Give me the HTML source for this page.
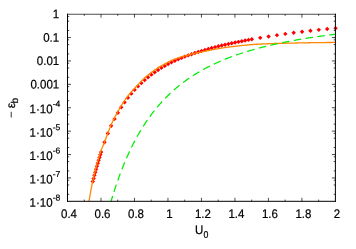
<!DOCTYPE html>
<html><head><meta charset="utf-8"><style>html,body{margin:0;padding:0;background:#fff}body{width:356px;height:249px;overflow:hidden}</style></head><body><svg width="356" height="249" viewBox="0 0 356 249" style="display:block;will-change:transform"><rect width="356" height="249" fill="#fff"/><path d="M90.57 181.55L92.77 179.35L94.97 181.55L92.77 183.75Z" fill="#ff0000"/><path d="M91.40 178.44L93.60 176.24L95.80 178.44L93.60 180.64Z" fill="#ff0000"/><path d="M92.24 175.33L94.44 173.13L96.64 175.33L94.44 177.53Z" fill="#ff0000"/><path d="M93.08 172.23L95.28 170.03L97.48 172.23L95.28 174.43Z" fill="#ff0000"/><path d="M93.91 169.17L96.11 166.97L98.31 169.17L96.11 171.37Z" fill="#ff0000"/><path d="M94.75 166.16L96.95 163.96L99.15 166.16L96.95 168.36Z" fill="#ff0000"/><path d="M95.59 163.21L97.79 161.01L99.99 163.21L97.79 165.41Z" fill="#ff0000"/><path d="M96.43 160.33L98.63 158.13L100.83 160.33L98.63 162.53Z" fill="#ff0000"/><path d="M97.26 157.51L99.46 155.31L101.66 157.51L99.46 159.71Z" fill="#ff0000"/><path d="M98.10 154.77L100.30 152.57L102.50 154.77L100.30 156.97Z" fill="#ff0000"/><path d="M98.94 152.10L101.14 149.90L103.34 152.10L101.14 154.30Z" fill="#ff0000"/><path d="M102.29 142.20L104.49 140.00L106.69 142.20L104.49 144.40Z" fill="#ff0000"/><path d="M105.64 133.45L107.84 131.25L110.04 133.45L107.84 135.65Z" fill="#ff0000"/><path d="M108.98 125.74L111.18 123.54L113.38 125.74L111.18 127.94Z" fill="#ff0000"/><path d="M112.33 118.90L114.53 116.70L116.73 118.90L114.53 121.10Z" fill="#ff0000"/><path d="M115.68 112.79L117.88 110.59L120.08 112.79L117.88 114.99Z" fill="#ff0000"/><path d="M119.03 107.30L121.23 105.10L123.43 107.30L121.23 109.50Z" fill="#ff0000"/><path d="M122.38 102.34L124.58 100.14L126.78 102.34L124.58 104.54Z" fill="#ff0000"/><path d="M125.73 97.81L127.93 95.61L130.13 97.81L127.93 100.01Z" fill="#ff0000"/><path d="M129.08 93.66L131.28 91.46L133.48 93.66L131.28 95.86Z" fill="#ff0000"/><path d="M132.43 89.85L134.63 87.65L136.83 89.85L134.63 92.05Z" fill="#ff0000"/><path d="M135.77 86.34L137.97 84.14L140.17 86.34L137.97 88.54Z" fill="#ff0000"/><path d="M139.12 83.08L141.32 80.88L143.52 83.08L141.32 85.28Z" fill="#ff0000"/><path d="M142.47 80.07L144.67 77.87L146.87 80.07L144.67 82.27Z" fill="#ff0000"/><path d="M145.82 77.27L148.02 75.07L150.22 77.27L148.02 79.47Z" fill="#ff0000"/><path d="M149.17 74.67L151.37 72.47L153.57 74.67L151.37 76.87Z" fill="#ff0000"/><path d="M152.52 72.24L154.72 70.04L156.92 72.24L154.72 74.44Z" fill="#ff0000"/><path d="M155.87 69.98L158.07 67.78L160.27 69.98L158.07 72.18Z" fill="#ff0000"/><path d="M159.22 67.87L161.42 65.67L163.62 67.87L161.42 70.07Z" fill="#ff0000"/><path d="M162.57 65.90L164.77 63.70L166.97 65.90L164.77 68.10Z" fill="#ff0000"/><path d="M165.91 64.05L168.11 61.85L170.31 64.05L168.11 66.25Z" fill="#ff0000"/><path d="M169.26 62.37L171.46 60.17L173.66 62.37L171.46 64.57Z" fill="#ff0000"/><path d="M172.61 60.79L174.81 58.59L177.01 60.79L174.81 62.99Z" fill="#ff0000"/><path d="M175.96 59.31L178.16 57.11L180.36 59.31L178.16 61.51Z" fill="#ff0000"/><path d="M179.31 57.91L181.51 55.71L183.71 57.91L181.51 60.11Z" fill="#ff0000"/><path d="M182.66 56.60L184.86 54.40L187.06 56.60L184.86 58.80Z" fill="#ff0000"/><path d="M186.01 55.36L188.21 53.16L190.41 55.36L188.21 57.56Z" fill="#ff0000"/><path d="M189.36 54.19L191.56 51.99L193.76 54.19L191.56 56.39Z" fill="#ff0000"/><path d="M192.70 53.06L194.90 50.86L197.10 53.06L194.90 55.26Z" fill="#ff0000"/><path d="M196.05 51.96L198.25 49.76L200.45 51.96L198.25 54.16Z" fill="#ff0000"/><path d="M199.40 50.91L201.60 48.71L203.80 50.91L201.60 53.11Z" fill="#ff0000"/><path d="M202.75 49.91L204.95 47.71L207.15 49.91L204.95 52.11Z" fill="#ff0000"/><path d="M206.10 48.96L208.30 46.76L210.50 48.96L208.30 51.16Z" fill="#ff0000"/><path d="M209.45 48.04L211.65 45.84L213.85 48.04L211.65 50.24Z" fill="#ff0000"/><path d="M212.80 47.16L215.00 44.96L217.20 47.16L215.00 49.36Z" fill="#ff0000"/><path d="M216.15 46.32L218.35 44.12L220.55 46.32L218.35 48.52Z" fill="#ff0000"/><path d="M219.49 45.51L221.69 43.31L223.89 45.51L221.69 47.71Z" fill="#ff0000"/><path d="M222.84 44.72L225.04 42.52L227.24 44.72L225.04 46.92Z" fill="#ff0000"/><path d="M226.19 43.97L228.39 41.77L230.59 43.97L228.39 46.17Z" fill="#ff0000"/><path d="M229.54 43.24L231.74 41.04L233.94 43.24L231.74 45.44Z" fill="#ff0000"/><path d="M232.89 42.53L235.09 40.33L237.29 42.53L235.09 44.73Z" fill="#ff0000"/><path d="M236.24 41.84L238.44 39.64L240.64 41.84L238.44 44.04Z" fill="#ff0000"/><path d="M239.59 41.18L241.79 38.98L243.99 41.18L241.79 43.38Z" fill="#ff0000"/><path d="M242.94 40.54L245.14 38.34L247.34 40.54L245.14 42.74Z" fill="#ff0000"/><path d="M246.29 39.91L248.49 37.71L250.69 39.91L248.49 42.11Z" fill="#ff0000"/><path d="M249.63 39.30L251.83 37.10L254.03 39.30L251.83 41.50Z" fill="#ff0000"/><path d="M258.01 37.86L260.21 35.66L262.41 37.86L260.21 40.06Z" fill="#ff0000"/><path d="M266.38 36.51L268.58 34.31L270.78 36.51L268.58 38.71Z" fill="#ff0000"/><path d="M274.75 35.17L276.95 32.97L279.15 35.17L276.95 37.37Z" fill="#ff0000"/><path d="M283.12 33.91L285.32 31.71L287.52 33.91L285.32 36.11Z" fill="#ff0000"/><path d="M291.49 32.79L293.69 30.59L295.89 32.79L293.69 34.99Z" fill="#ff0000"/><path d="M299.87 31.75L302.07 29.55L304.27 31.75L302.07 33.95Z" fill="#ff0000"/><path d="M308.24 30.77L310.44 28.57L312.64 30.77L310.44 32.97Z" fill="#ff0000"/><path d="M316.61 29.86L318.81 27.66L321.01 29.86L318.81 32.06Z" fill="#ff0000"/><path d="M324.98 29.02L327.18 26.82L329.38 29.02L327.18 31.22Z" fill="#ff0000"/><path d="M333.35 28.24L335.55 26.04L337.75 28.24L335.55 30.44Z" fill="#ff0000"/><path d="M89.00 201.50 L89.82 196.54 L90.65 191.74 L91.47 187.21 L92.30 183.04 L93.12 179.29 L93.95 175.72 L94.77 172.29 L95.60 169.01 L96.42 165.87 L97.24 162.86 L98.07 159.98 L98.89 157.23 L99.72 154.61 L100.54 152.11 L101.37 149.75 L102.19 147.63 L103.02 145.65 L103.84 143.69 L104.66 141.64 L105.49 139.49 L106.31 137.31 L107.14 135.13 L107.96 132.97 L108.79 130.80 L109.61 128.62 L110.43 126.54 L111.26 124.61 L112.08 122.80 L112.91 121.06 L113.73 119.37 L114.56 117.74 L115.38 116.15 L116.21 114.61 L117.03 113.09 L117.85 111.60 L118.68 110.14 L119.50 108.70 L120.33 107.28 L121.15 105.90 L121.98 104.56 L122.80 103.25 L123.63 101.98 L124.45 100.76 L125.27 99.58 L126.10 98.44 L126.92 97.34 L127.75 96.26 L128.57 95.22 L129.40 94.19 L130.22 93.20 L131.05 92.22 L131.87 91.26 L132.69 90.32 L133.52 89.42 L134.34 88.53 L135.17 87.65 L135.99 86.79 L136.82 85.94 L137.64 85.08 L138.46 84.22 L139.29 83.35 L140.11 82.48 L140.94 81.62 L141.76 80.77 L142.59 79.93 L143.41 79.11 L144.24 78.32 L145.06 77.56 L145.88 76.83 L146.71 76.11 L147.53 75.42 L148.36 74.73 L149.18 74.07 L150.01 73.42 L150.83 72.78 L151.66 72.16 L152.48 71.55 L153.30 70.95 L154.13 70.37 L154.95 69.79 L155.78 69.23 L156.60 68.69 L157.43 68.15 L158.25 67.63 L159.08 67.12 L159.90 66.62 L160.72 66.14 L161.55 65.66 L162.37 65.20 L163.20 64.74 L164.02 64.28 L164.85 63.84 L165.67 63.39 L166.49 62.95 L167.32 62.50 L168.14 62.07 L168.97 61.64 L169.79 61.23 L170.62 60.83 L171.44 60.46 L172.27 60.10 L173.09 59.77 L173.91 59.45 L174.74 59.14 L175.56 58.84 L176.39 58.55 L177.21 58.26 L178.04 57.99 L178.86 57.71 L179.69 57.45 L180.51 57.20 L181.33 56.95 L182.16 56.71 L182.98 56.48 L183.81 56.24 L184.63 56.00 L185.46 55.77 L186.28 55.54 L187.11 55.30 L187.93 55.07 L188.75 54.83 L189.58 54.60 L190.40 54.37 L191.23 54.15 L192.05 53.94 L192.88 53.74 L193.70 53.55 L194.53 53.38 L195.35 53.20 L196.17 53.04 L197.00 52.87 L197.82 52.72 L198.65 52.56 L199.47 52.41 L200.30 52.24 L201.12 52.07 L201.94 51.89 L202.77 51.71 L203.59 51.53 L204.42 51.36 L205.24 51.18 L206.07 51.00 L206.89 50.83 L207.72 50.66 L208.54 50.49 L209.36 50.33 L210.19 50.16 L211.01 50.00 L211.84 49.84 L212.66 49.69 L213.49 49.53 L214.31 49.38 L215.14 49.23 L215.96 49.08 L216.78 48.93 L217.61 48.79 L218.43 48.65 L219.26 48.51 L220.08 48.37 L220.91 48.23 L221.73 48.10 L222.56 47.97 L223.38 47.84 L224.20 47.71 L225.03 47.59 L225.85 47.46 L226.68 47.35 L227.50 47.23 L228.33 47.12 L229.15 47.00 L229.97 46.90 L230.80 46.79 L231.62 46.68 L232.45 46.58 L233.27 46.48 L234.10 46.38 L234.92 46.28 L235.75 46.18 L236.57 46.09 L237.39 45.99 L238.22 45.90 L239.04 45.80 L239.87 45.71 L240.69 45.62 L241.52 45.53 L242.34 45.45 L243.17 45.37 L243.99 45.29 L244.81 45.21 L245.64 45.13 L246.46 45.06 L247.29 44.98 L248.11 44.91 L248.94 44.83 L249.76 44.76 L250.59 44.69 L251.41 44.61 L252.23 44.55 L253.06 44.48 L253.88 44.42 L254.71 44.37 L255.53 44.32 L256.36 44.27 L257.18 44.23 L258.01 44.18 L258.83 44.14 L259.65 44.10 L260.48 44.06 L261.30 44.02 L262.13 43.98 L262.95 43.94 L263.78 43.91 L264.60 43.87 L265.42 43.83 L266.25 43.80 L267.07 43.77 L267.90 43.73 L268.72 43.70 L269.55 43.67 L270.37 43.64 L271.20 43.62 L272.02 43.59 L272.84 43.57 L273.67 43.55 L274.49 43.52 L275.32 43.50 L276.14 43.48 L276.97 43.46 L277.79 43.44 L278.62 43.41 L279.44 43.39 L280.26 43.37 L281.09 43.35 L281.91 43.33 L282.74 43.31 L283.56 43.29 L284.39 43.27 L285.21 43.25 L286.04 43.23 L286.86 43.21 L287.68 43.19 L288.51 43.17 L289.33 43.15 L290.16 43.13 L290.98 43.12 L291.81 43.10 L292.63 43.08 L293.45 43.06 L294.28 43.05 L295.10 43.03 L295.93 43.01 L296.75 43.00 L297.58 42.98 L298.40 42.96 L299.23 42.95 L300.05 42.93 L300.87 42.91 L301.70 42.90 L302.52 42.88 L303.35 42.87 L304.17 42.85 L305.00 42.83 L305.82 42.82 L306.65 42.80 L307.47 42.79 L308.29 42.77 L309.12 42.75 L309.94 42.74 L310.77 42.72 L311.59 42.71 L312.42 42.70 L313.24 42.68 L314.07 42.67 L314.89 42.66 L315.71 42.64 L316.54 42.63 L317.36 42.62 L318.19 42.61 L319.01 42.60 L319.84 42.59 L320.66 42.58 L321.48 42.57 L322.31 42.56 L323.13 42.55 L323.96 42.54 L324.78 42.54 L325.61 42.53 L326.43 42.52 L327.26 42.51 L328.08 42.50 L328.90 42.50 L329.73 42.49 L330.55 42.48 L331.38 42.48 L332.20 42.47 L333.03 42.47 L333.85 42.46 L334.68 42.46 L335.50 42.45" fill="none" stroke="#ff8800" stroke-width="1.3"/><path d="M111.00 201.54 L111.75 199.02 L112.50 196.55 L113.25 194.12 L114.00 191.74 L114.75 189.41 L115.50 187.13 L116.25 184.89 L117.00 182.69 L117.75 180.53 L118.51 178.42 L119.26 176.35 L120.01 174.31 L120.76 172.31 L121.51 170.35 L122.26 168.43 L123.01 166.54 L123.76 164.68 L124.51 162.86 L125.26 161.08 L126.01 159.32 L126.76 157.59 L127.51 155.90 L128.26 154.24 L129.01 152.60 L129.76 150.99 L130.51 149.41 L131.26 147.86 L132.01 146.33 L132.76 144.83 L133.52 143.36 L134.27 141.91 L135.02 140.48 L135.77 139.08 L136.52 137.70 L137.27 136.35 L138.02 135.01 L138.77 133.70 L139.52 132.41 L140.27 131.14 L141.02 129.89 L141.77 128.66 L142.52 127.45 L143.27 126.26 L144.02 125.08 L144.77 123.93 L145.52 122.79 L146.27 121.67 L147.02 120.57 L147.77 119.48 L148.53 118.42 L149.28 117.36 L150.03 116.33 L150.78 115.30 L151.53 114.30 L152.28 113.31 L153.03 112.33 L153.78 111.37 L154.53 110.42 L155.28 109.48 L156.03 108.56 L156.78 107.65 L157.53 106.76 L158.28 105.88 L159.03 105.01 L159.78 104.15 L160.53 103.30 L161.28 102.47 L162.03 101.65 L162.78 100.84 L163.54 100.04 L164.29 99.25 L165.04 98.47 L165.79 97.71 L166.54 96.95 L167.29 96.20 L168.04 95.47 L168.79 94.74 L169.54 94.02 L170.29 93.31 L171.04 92.62 L171.79 91.93 L172.54 91.25 L173.29 90.58 L174.04 89.91 L174.79 89.26 L175.54 88.61 L176.29 87.98 L177.04 87.35 L177.79 86.73 L178.55 86.11 L179.30 85.51 L180.05 84.91 L180.80 84.32 L181.55 83.73 L182.30 83.16 L183.05 82.59 L183.80 82.03 L184.55 81.47 L185.30 80.92 L186.05 80.38 L186.80 79.85 L187.55 79.32 L188.30 78.79 L189.05 78.28 L189.80 77.77 L190.55 77.26 L191.30 76.76 L192.05 76.27 L192.80 75.79 L193.56 75.30 L194.31 74.83 L195.06 74.36 L195.81 73.90 L196.56 73.44 L197.31 72.98 L198.06 72.53 L198.81 72.09 L199.56 71.65 L200.31 71.22 L201.06 70.79 L201.81 70.36 L202.56 69.95 L203.31 69.53 L204.06 69.12 L204.81 68.71 L205.56 68.31 L206.31 67.92 L207.06 67.52 L207.81 67.14 L208.57 66.75 L209.32 66.37 L210.07 66.00 L210.82 65.62 L211.57 65.26 L212.32 64.89 L213.07 64.53 L213.82 64.18 L214.57 63.82 L215.32 63.47 L216.07 63.13 L216.82 62.79 L217.57 62.45 L218.32 62.12 L219.07 61.78 L219.82 61.46 L220.57 61.13 L221.32 60.81 L222.07 60.49 L222.82 60.18 L223.58 59.87 L224.33 59.56 L225.08 59.25 L225.83 58.95 L226.58 58.65 L227.33 58.36 L228.08 58.06 L228.83 57.77 L229.58 57.48 L230.33 57.20 L231.08 56.92 L231.83 56.64 L232.58 56.36 L233.33 56.09 L234.08 55.82 L234.83 55.55 L235.58 55.28 L236.33 55.02 L237.08 54.76 L237.83 54.50 L238.59 54.24 L239.34 53.99 L240.09 53.74 L240.84 53.49 L241.59 53.24 L242.34 53.00 L243.09 52.76 L243.84 52.52 L244.59 52.28 L245.34 52.04 L246.09 51.81 L246.84 51.58 L247.59 51.35 L248.34 51.12 L249.09 50.90 L249.84 50.67 L250.59 50.45 L251.34 50.23 L252.09 50.02 L252.84 49.80 L253.60 49.59 L254.35 49.38 L255.10 49.17 L255.85 48.96 L256.60 48.75 L257.35 48.55 L258.10 48.35 L258.85 48.15 L259.60 47.95 L260.35 47.75 L261.10 47.56 L261.85 47.36 L262.60 47.17 L263.35 46.98 L264.10 46.79 L264.85 46.61 L265.60 46.42 L266.35 46.24 L267.10 46.05 L267.85 45.87 L268.61 45.69 L269.36 45.52 L270.11 45.34 L270.86 45.17 L271.61 44.99 L272.36 44.82 L273.11 44.65 L273.86 44.48 L274.61 44.31 L275.36 44.15 L276.11 43.98 L276.86 43.82 L277.61 43.66 L278.36 43.49 L279.11 43.34 L279.86 43.18 L280.61 43.02 L281.36 42.86 L282.11 42.71 L282.86 42.56 L283.62 42.40 L284.37 42.25 L285.12 42.10 L285.87 41.95 L286.62 41.81 L287.37 41.66 L288.12 41.52 L288.87 41.37 L289.62 41.23 L290.37 41.09 L291.12 40.95 L291.87 40.81 L292.62 40.67 L293.37 40.53 L294.12 40.39 L294.87 40.26 L295.62 40.12 L296.37 39.99 L297.12 39.86 L297.87 39.73 L298.63 39.60 L299.38 39.47 L300.13 39.34 L300.88 39.21 L301.63 39.09 L302.38 38.96 L303.13 38.84 L303.88 38.71 L304.63 38.59 L305.38 38.47 L306.13 38.35 L306.88 38.23 L307.63 38.11 L308.38 37.99 L309.13 37.87 L309.88 37.75 L310.63 37.64 L311.38 37.52 L312.13 37.41 L312.88 37.30 L313.64 37.18 L314.39 37.07 L315.14 36.96 L315.89 36.85 L316.64 36.74 L317.39 36.63 L318.14 36.53 L318.89 36.42 L319.64 36.31 L320.39 36.21 L321.14 36.10 L321.89 36.00 L322.64 35.90 L323.39 35.79 L324.14 35.69 L324.89 35.59 L325.64 35.49 L326.39 35.39 L327.14 35.29 L327.89 35.19 L328.65 35.09 L329.40 35.00 L330.15 34.90 L330.90 34.81 L331.65 34.71 L332.40 34.62 L333.15 34.52 L333.90 34.43 L334.65 34.34 L335.40 34.24" fill="none" stroke="#00ee00" stroke-width="1.25" stroke-dasharray="7.55 4.4" stroke-dashoffset="1.8"/><path d="M67.50 13.75V201.80M335.40 13.75V201.80M67.00 201.30H335.90" fill="none" stroke="#000" stroke-width="1"/><path d="M67.00 14.25H335.90" fill="none" stroke="#000" stroke-width="0.7"/><path d="M84.24 201.30v-1.7M84.24 14.15v1.7M100.99 201.30v-3.5M100.99 14.15v3.5M117.73 201.30v-1.7M117.73 14.15v1.7M134.48 201.30v-3.5M134.48 14.15v3.5M151.22 201.30v-1.7M151.22 14.15v1.7M167.96 201.30v-3.5M167.96 14.15v3.5M184.71 201.30v-1.7M184.71 14.15v1.7M201.45 201.30v-3.5M201.45 14.15v3.5M218.20 201.30v-1.7M218.20 14.15v1.7M234.94 201.30v-3.5M234.94 14.15v3.5M251.68 201.30v-1.7M251.68 14.15v1.7M268.43 201.30v-3.5M268.43 14.15v3.5M285.17 201.30v-1.7M285.17 14.15v1.7M301.92 201.30v-3.5M301.92 14.15v3.5M318.66 201.30v-1.7M318.66 14.15v1.7M67.50 16.42h1.7M335.40 16.42h-1.7M67.50 21.19h1.7M335.40 21.19h-1.7M67.50 30.51h1.7M335.40 30.51h-1.7M67.50 37.55h3.5M335.40 37.55h-3.5M67.50 39.82h1.7M335.40 39.82h-1.7M67.50 44.59h1.7M335.40 44.59h-1.7M67.50 53.91h1.7M335.40 53.91h-1.7M67.50 60.95h3.5M335.40 60.95h-3.5M67.50 63.22h1.7M335.40 63.22h-1.7M67.50 67.99h1.7M335.40 67.99h-1.7M67.50 77.31h1.7M335.40 77.31h-1.7M67.50 84.35h3.5M335.40 84.35h-3.5M67.50 86.62h1.7M335.40 86.62h-1.7M67.50 91.39h1.7M335.40 91.39h-1.7M67.50 100.71h1.7M335.40 100.71h-1.7M67.50 107.75h3.5M335.40 107.75h-3.5M67.50 110.02h1.7M335.40 110.02h-1.7M67.50 114.79h1.7M335.40 114.79h-1.7M67.50 124.11h1.7M335.40 124.11h-1.7M67.50 131.15h3.5M335.40 131.15h-3.5M67.50 133.42h1.7M335.40 133.42h-1.7M67.50 138.19h1.7M335.40 138.19h-1.7M67.50 147.51h1.7M335.40 147.51h-1.7M67.50 154.55h3.5M335.40 154.55h-3.5M67.50 156.82h1.7M335.40 156.82h-1.7M67.50 161.59h1.7M335.40 161.59h-1.7M67.50 170.91h1.7M335.40 170.91h-1.7M67.50 177.95h3.5M335.40 177.95h-3.5M67.50 180.22h1.7M335.40 180.22h-1.7M67.50 184.99h1.7M335.40 184.99h-1.7M67.50 194.31h1.7M335.40 194.31h-1.7" fill="none" stroke="#000" stroke-width="0.7"/><g font-family="Liberation Sans, sans-serif" font-size="11.5" fill="#000" stroke="#000" stroke-width="0.2" text-rendering="geometricPrecision"><g transform="translate(59.20 18.30) rotate(0.03) scale(1 1.080)"><text text-anchor="end">1</text></g><g transform="translate(59.20 41.70) rotate(0.03) scale(1 1.080)"><text text-anchor="end">0.1</text></g><g transform="translate(59.20 65.10) rotate(0.03) scale(1 1.080)"><text text-anchor="end">0.01</text></g><g transform="translate(59.20 88.50) rotate(0.03) scale(1 1.080)"><text text-anchor="end">0.001</text></g><g transform="translate(52.65 113.25) rotate(0.03) scale(1 1.080)"><text text-anchor="end">1·10</text></g><text x="52.65" y="106.80" font-size="8.6" transform="rotate(0.03 52.65 106.80)">-4</text><g transform="translate(52.65 136.65) rotate(0.03) scale(1 1.080)"><text text-anchor="end">1·10</text></g><text x="52.65" y="130.20" font-size="8.6" transform="rotate(0.03 52.65 130.20)">-5</text><g transform="translate(52.65 160.05) rotate(0.03) scale(1 1.080)"><text text-anchor="end">1·10</text></g><text x="52.65" y="153.60" font-size="8.6" transform="rotate(0.03 52.65 153.60)">-6</text><g transform="translate(52.65 183.45) rotate(0.03) scale(1 1.080)"><text text-anchor="end">1·10</text></g><text x="52.65" y="177.00" font-size="8.6" transform="rotate(0.03 52.65 177.00)">-7</text><g transform="translate(52.65 206.85) rotate(0.03) scale(1 1.080)"><text text-anchor="end">1·10</text></g><text x="52.65" y="200.40" font-size="8.6" transform="rotate(0.03 52.65 200.40)">-8</text><g transform="translate(69.00 217.90) rotate(0.03) scale(1 1.080)"><text text-anchor="middle">0.4</text></g><g transform="translate(102.49 217.90) rotate(0.03) scale(1 1.080)"><text text-anchor="middle">0.6</text></g><g transform="translate(135.98 217.90) rotate(0.03) scale(1 1.080)"><text text-anchor="middle">0.8</text></g><g transform="translate(169.46 217.90) rotate(0.03) scale(1 1.080)"><text text-anchor="middle">1</text></g><g transform="translate(202.95 217.90) rotate(0.03) scale(1 1.080)"><text text-anchor="middle">1.2</text></g><g transform="translate(236.44 217.90) rotate(0.03) scale(1 1.080)"><text text-anchor="middle">1.4</text></g><g transform="translate(269.93 217.90) rotate(0.03) scale(1 1.080)"><text text-anchor="middle">1.6</text></g><g transform="translate(303.42 217.90) rotate(0.03) scale(1 1.080)"><text text-anchor="middle">1.8</text></g><g transform="translate(336.90 217.90) rotate(0.03) scale(1 1.080)"><text text-anchor="middle">2</text></g><g transform="translate(194.90 234.00) rotate(0.03) scale(1 1.080)"><text text-anchor="start">U</text></g><g transform="translate(203.60 237.70) rotate(0.03) scale(1 1.080)"><text text-anchor="start" font-size="8.8">0</text></g><g transform="translate(14.7 118) rotate(-90)"><text x="0" y="0.5" stroke-width="0">−</text><text x="9.7" y="0" font-size="12.3">ε</text><text x="14.5" y="3.5" font-size="10">b</text></g></g></svg></body></html>
